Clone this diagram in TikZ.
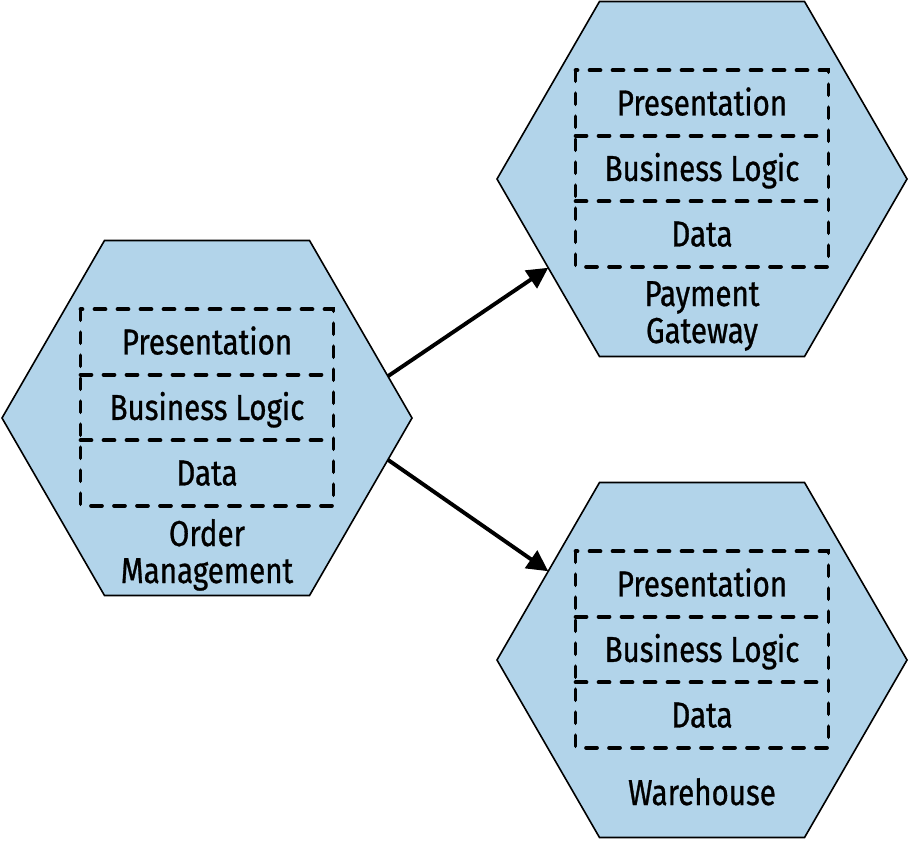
\documentclass[tikz,border=0pt]{standalone}
\usepackage{fontspec}
\setmainfont{Fira Sans}[FakeStretch=0.82,FakeBold=0.8]
\usetikzlibrary{arrows.meta,positioning,shapes.geometric}
\definecolor{hexblue}{HTML}{B2D4EA}

\begin{document}
\begin{tikzpicture}[x=1pt,y=-1pt,
  hexa/.style={regular polygon,regular polygon sides=6,minimum size=410pt,
    inner sep=0pt,outer sep=0pt,draw=black,line width=1.6pt,fill=hexblue},
  layer/.style={minimum width=253pt,minimum height=65.5pt,
    inner sep=0pt,outer sep=0pt,text height=24.8pt,text depth=0pt,
    font=\fontsize{36}{37}\selectfont},
  dashline/.style={draw=black,dash pattern=on 11pt off 12pt,line cap=round,
    line width=3.7pt},
  caption/.style={align=center,anchor=base,font=\fontsize{36}{37}\selectfont},
  flow/.style={-{Triangle[length=21pt,width=21pt]},line width=3.9pt}]
\useasboundingbox (0,0) rectangle (909,840);

% three services, each with its layers
\foreach \n/\x/\y in {order/207/418, pay/702/179, ware/702/660} {
  \node[hexa] (\n) at (\x,\y) {};
  \node[layer] (\n-pres) at (\x,\y-76) {Presentation};
  \node[layer,below=0pt of \n-pres] (\n-biz) {Business Logic};
  \node[layer,below=0pt of \n-biz] (\n-data) {Data};
  \draw[dashline] (\n-pres.north west) rectangle (\n-data.south east);
  \draw[dashline] (\n-pres.south west) -- (\n-pres.south east);
  \draw[dashline] (\n-biz.south west) -- (\n-biz.south east);
}
\node[caption] (order-name) at (207,583) {Order\\Management};
\node[caption] (pay-name) at (702,343) {Payment\\Gateway};
\node[caption] (ware-name) at (702,805) {Warehouse};

\draw[flow] (order.13) -- (pay.210);
\draw[flow] (order.-13) -- (ware.150);
\end{tikzpicture}
\end{document}
